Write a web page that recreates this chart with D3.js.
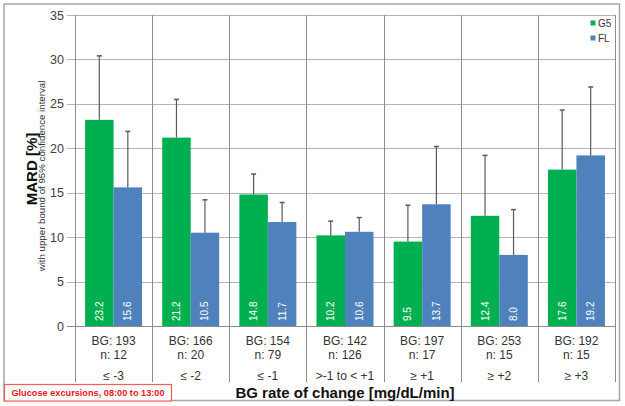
<!DOCTYPE html>
<html>
<head>
<meta charset="utf-8">
<script src="https://cdn.jsdelivr.net/npm/d3@7"></script>
<style>
html,body{margin:0;padding:0;background:#fff;}
svg{display:block;font-family:"Liberation Sans",Arial,sans-serif;}
</style>
</head>
<body>
<svg id="chart" width="625" height="406"></svg>
<script>
const categories = ["≤ -3","≤ -2","≤ -1",">-1 to < +1","≥ +1","≥ +2","≥ +3"];
const bgValues = [193,166,154,142,197,253,192];
const nValues = [12,20,79,126,17,15,15];
const seriesNames = ["G5","FL"];
const g5Values = [23.2,21.2,14.8,10.2,9.5,12.4,17.6];
const flValues = [15.6,10.5,11.7,10.6,13.7,8.0,19.2];
const g5Upper = [30.4,25.5,17.1,11.8,13.6,19.2,24.3];
const flUpper = [21.9,14.2,13.9,12.2,20.2,13.1,26.9];
const yTicks = [0,5,10,15,20,25,30,35];
const colors = {G5:"#00b050", FL:"#4f81bd"};

const svg = d3.select("#chart");
const pLeft = 75, pRight = 615, pTop = 15, pBottom = 326, sepBottom = 382;

const x0 = d3.scaleBand().domain(categories).range([pLeft, pRight]).padding(0);
const bw = x0.bandwidth();
const x1 = d3.scaleBand().domain(seriesNames).range([(bw-57)/2, (bw+57)/2]).padding(0);
const y = d3.scaleLinear().domain([0,35]).range([pBottom, pTop]);

const data = categories.map((c,i)=>({
  cat:c, bg:bgValues[i], n:nValues[i],
  series:[
    {name:"G5", value:g5Values[i], upper:g5Upper[i]},
    {name:"FL", value:flValues[i], upper:flUpper[i]}
  ]
}));

// outer border
svg.append("rect").attr("x",4).attr("y",4).attr("width",615.5).attr("height",396.5)
  .attr("fill","#fff").attr("stroke","#a6a6a6").attr("stroke-width",1.5);

// horizontal gridlines + ticks
svg.append("g").selectAll("line").data(yTicks).join("line")
  .attr("x1",pLeft-8).attr("x2",pRight)
  .attr("y1",d=>Math.round(y(d))+0.5).attr("y2",d=>Math.round(y(d))+0.5)
  .attr("stroke",d=>d===0?"#8c8c8c":"#b4b4b4").attr("stroke-width",1);

// y tick labels
svg.append("g").selectAll("text").data(yTicks).join("text")
  .attr("x",pLeft-11).attr("y",d=>y(d)).attr("dy","0.36em")
  .attr("text-anchor","end").attr("font-size",12.5).attr("fill","#404040")
  .text(d=>d);

// vertical separators
const seps = categories.map(c=>x0(c)).concat([pRight]);
svg.append("g").selectAll("line").data(seps).join("line")
  .attr("x1",d=>Math.round(d)+0.5).attr("x2",d=>Math.round(d)+0.5)
  .attr("y1",pTop).attr("y2",sepBottom)
  .attr("stroke","#8c8c8c").attr("stroke-width",1);

// bars
const groups = svg.append("g").selectAll("g").data(data).join("g")
  .attr("transform",d=>`translate(${x0(d.cat)},0)`);

groups.selectAll("rect").data(d=>d.series).join("rect")
  .attr("x",d=>x1(d.name)).attr("width",x1.bandwidth())
  .attr("y",d=>y(d.value)).attr("height",d=>y(0)-y(d.value))
  .attr("fill",d=>colors[d.name]);

// error bars
groups.selectAll("line.err").data(d=>d.series).join("line").attr("class","err")
  .attr("x1",d=>x1(d.name)+x1.bandwidth()/2).attr("x2",d=>x1(d.name)+x1.bandwidth()/2)
  .attr("y1",d=>y(d.value)).attr("y2",d=>y(d.upper))
  .attr("stroke","#5a5a5a").attr("stroke-width",1.2);
groups.selectAll("line.cap").data(d=>d.series).join("line").attr("class","cap")
  .attr("x1",d=>x1(d.name)+x1.bandwidth()/2-2.5).attr("x2",d=>x1(d.name)+x1.bandwidth()/2+2.5)
  .attr("y1",d=>y(d.upper)).attr("y2",d=>y(d.upper))
  .attr("stroke","#5a5a5a").attr("stroke-width",1.5);

// value labels
groups.selectAll("text.val").data(d=>d.series).join("text").attr("class","val")
  .attr("transform",d=>`translate(${x1(d.name)+x1.bandwidth()/2},${y(0)-5}) rotate(-90)`)
  .attr("dy","0.35em").attr("text-anchor","start")
  .attr("font-size",10).attr("fill","#fff")
  .text(d=>d.value.toFixed(1));

// category labels
groups.append("text").attr("x",bw/2).attr("y",345).attr("text-anchor","middle")
  .attr("font-size",12).attr("fill","#333").text(d=>"BG: "+d.bg);
groups.append("text").attr("x",bw/2).attr("y",359).attr("text-anchor","middle")
  .attr("font-size",12).attr("fill","#333").text(d=>"n: "+d.n);
groups.append("text").attr("x",bw/2).attr("y",379.5).attr("text-anchor","middle")
  .attr("font-size",12).attr("fill","#333").text(d=>d.cat);

// axis titles
svg.append("text").attr("x",(pLeft+pRight)/2).attr("y",397.5).attr("text-anchor","middle")
  .attr("font-size",15).attr("font-weight","bold").attr("fill","#111")
  .text("BG rate of change [mg/dL/min]");
svg.append("text").attr("transform","translate(32,169) rotate(-90)")
  .attr("dy","0.36em").attr("text-anchor","middle")
  .attr("font-size",15).attr("font-weight","bold").attr("fill","#111")
  .text("MARD [%]");
svg.append("text").attr("transform","translate(41.5,176) rotate(-90)")
  .attr("dy","0.36em").attr("text-anchor","middle")
  .attr("font-size",9.7).attr("fill","#333")
  .text("with upper bound of 95% confidence interval");

// legend
const leg = svg.append("g").selectAll("g").data(seriesNames).join("g")
  .attr("transform",(d,i)=>`translate(590.5,${20.5+i*15})`);
leg.append("rect").attr("width",5).attr("height",5).attr("fill",d=>colors[d]);
leg.append("text").attr("x",7.5).attr("y",2.5).attr("dy","0.36em")
  .attr("font-size",10).attr("fill","#333").text(d=>d);

// red note box
svg.append("rect").attr("x",4.5).attr("y",384.5).attr("width",167).attr("height",16.5)
  .attr("fill","#fff").attr("stroke","#ff5a5a").attr("stroke-width",1.2);
svg.append("text").attr("x",88).attr("y",393).attr("dy","0.36em").attr("text-anchor","middle")
  .attr("font-size",9.2).attr("font-weight","bold").attr("fill","#e8141e")
  .text("Glucose excursions, 08:00 to 13:00");
</script>
</body>
</html>
